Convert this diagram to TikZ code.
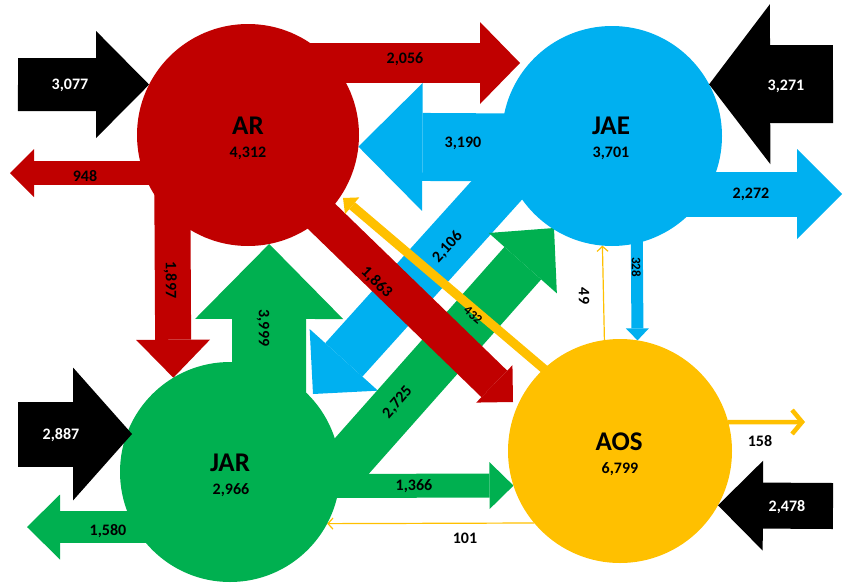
\documentclass[tikz,border=0pt]{standalone}
\usepackage{fontspec}
\setmainfont{Carlito}
\usetikzlibrary{arrows.meta, backgrounds}

\definecolor{arred}{HTML}{C00000}
\definecolor{jaeblue}{HTML}{00B0F0}
\definecolor{jargreen}{HTML}{00B050}
\definecolor{aosyellow}{HTML}{FFC000}

\tikzset{
  hub/.style={circle, inner sep=0pt, outer sep=0pt, minimum size=#1},
  hubname/.style={font=\bfseries\fontsize{27}{30}\selectfont, inner sep=0pt, text height=17.4pt, text depth=0pt},
  val/.style={font=\bfseries\fontsize{16}{18}\selectfont, inner sep=0pt, text height=10.1pt, text depth=0pt},
  small val/.style={font=\bfseries\fontsize{13}{15}\selectfont, inner sep=0pt, text height=8.2pt, text depth=0pt},
  flow/.style n args={3}{line width=#1, -{Triangle[width=#2, length=#3, line width=0pt]}},
  thinflow/.style={aosyellow, line width=1.2pt, -{Straight Barb[length=5pt, width=11pt]}},
}

\begin{document}
\begin{tikzpicture}[x=1pt, y=-1pt]
    \useasboundingbox (0,0) rectangle (843,584);

    % Nodi
    \node[hub=222pt, fill=arred] (ar) at (248,135) {};
    \node[hub=220pt, fill=jaeblue] (jae) at (612,136) {};
    \node[hub=220pt, fill=jargreen] (jar) at (230,472) {};
    \node[hub=224pt, fill=aosyellow] (aos) at (620,451) {};

    % Estremi liberi
    \coordinate (t2056) at (520,63);
    \coordinate (t948) at (10,173);
    \coordinate (t1863) at (513,402);
    \coordinate (t2106) at (313,394);
    \coordinate (t2272) at (842,194);
    \coordinate (t2725) at (554,228);
    \coordinate (t1580) at (27,527);
    \coordinate (t432) at (343,198);
    \coordinate (t158) at (805,422);
    \coordinate (t2887) at (132,434);
    \coordinate (s3077) at (18,84.5);
    \coordinate (s3271) at (833,84);
    \coordinate (s2887) at (18,434);
    \coordinate (s2478) at (833,506);

    % Flussi
    \begin{scope}[on background layer]
    \draw[jaeblue, flow={68pt}{128pt}{64pt}] ([yshift=-12pt]jae.center) -- (ar.-6.7);
    \draw[jaeblue, flow={50pt}{92pt}{46pt}] ([xshift=-78pt, yshift=-13pt]jae.center) -- (t2106);
    \draw[jaeblue, flow={45pt}{90pt}{45pt}] ([yshift=-58pt]jae.center) -- (t2272);
    \draw[jaeblue, flow={12pt}{23pt}{12pt}] ([xshift=24pt]jae.center) -- (aos.81.8);

    \draw[jargreen, flow={74pt}{148pt}{75pt}] ([xshift=39pt]jar.center) -- (ar.-79.1);
    \draw[jargreen, flow={49pt}{91pt}{47pt}] ([xshift=105pt, yshift=-3pt]jar.center) -- (t2725);
    \draw[jargreen, flow={24pt}{47pt}{24pt}] ([yshift=-14pt]jar.center) -- (aos.198.2);
    \draw[jargreen, flow={32pt}{65pt}{33pt}] ([yshift=-55pt]jar.center) -- (t1580);

    \draw[arred, flow={40pt}{82pt}{40pt}] ([yshift=72pt]ar.center) -- (t2056);
    \draw[arred, flow={24pt}{48pt}{24pt}] ([yshift=-38pt]ar.center) -- (t948);
    \draw[arred, flow={36pt}{74pt}{38pt}] ([xshift=-76pt]ar.center) -- (jar.121.8);
    \draw[arred, flow={37pt}{52pt}{26pt}] ([yshift=-10pt]ar.center) -- (t1863);

    \draw[aosyellow, flow={9pt}{22pt}{12pt}] ([xshift=-30pt, yshift=43pt]aos.center) -- (t432);
    \draw[aosyellow, line width=4.5pt, -{Straight Barb[length=10pt, width=24pt]}] (aos.15) -- (t158);
    \draw[thinflow] (aos.98.7) -- (jae.265.3);
    \draw[thinflow] (aos.220) -- (jar.332);
    \end{scope}

    % Ingressi
    \draw[black, flow={53pt}{107pt}{53pt}] (s3077) -- (ar.153);
    \draw[black, flow={78pt}{160pt}{61pt}] (s3271) -- (jae.28.2);
    \draw[black, flow={65pt}{133pt}{59pt}] (s2887) -- (t2887);
    \draw[black, flow={46pt}{90pt}{45pt}] (s2478) -- (aos.-29.4);

    % Etichette
    \node[hubname] (arname) at (248,126) {AR};
    \node[val] (arval) at (248,152) {4,312};
    \node[hubname] (jaename) at (611,126) {JAE};
    \node[val] (jaeval) at (611,152) {3,701};
    \node[hubname] (jarname) at (230,463) {JAR};
    \node[val] (jarval) at (231,489) {2,966};
    \node[hubname] (aosname) at (619,442) {AOS};
    \node[val] (aosval) at (620,468) {6,799};

    \node[val, text=white] (l3077) at (70,84) {3,077};
    \node[val, text=white] (l3271) at (786,85) {3,271};
    \node[val, text=white] (l2887) at (61,434) {2,887};
    \node[val, text=white] (l2478) at (787,506) {2,478};

    \node[val] (l2056) at (405,58) {2,056};
    \node[val] (l948) at (85,176) {948};
    \node[val, rotate=-90] (l1897) at (171,280) {1,897};
    \node[val, rotate=-44] (l1863) at (377,282) {1,863};
    \node[val] (l3190) at (463,142) {3,190};
    \node[val, rotate=48] (l2106) at (447,247) {2,106};
    \node[val] (l2272) at (751,193) {2,272};
    \node[small val, rotate=-90] (l328) at (636,267) {328};
    \node[val, rotate=-90] (l3999) at (264,328) {3,999};
    \node[val, rotate=49] (l2725) at (397,402) {2,725};
    \node[val] (l1366) at (414,485) {1,366};
    \node[val] (l1580) at (108,530) {1,580};
    \node[small val, rotate=-40] (l432) at (473,315) {432};
    \node[val, rotate=-90] (l49) at (584,296) {49};
    \node[val] (l158) at (760,441) {158};
    \node[val] (l101) at (465,538) {101};
\end{tikzpicture}
\end{document}
